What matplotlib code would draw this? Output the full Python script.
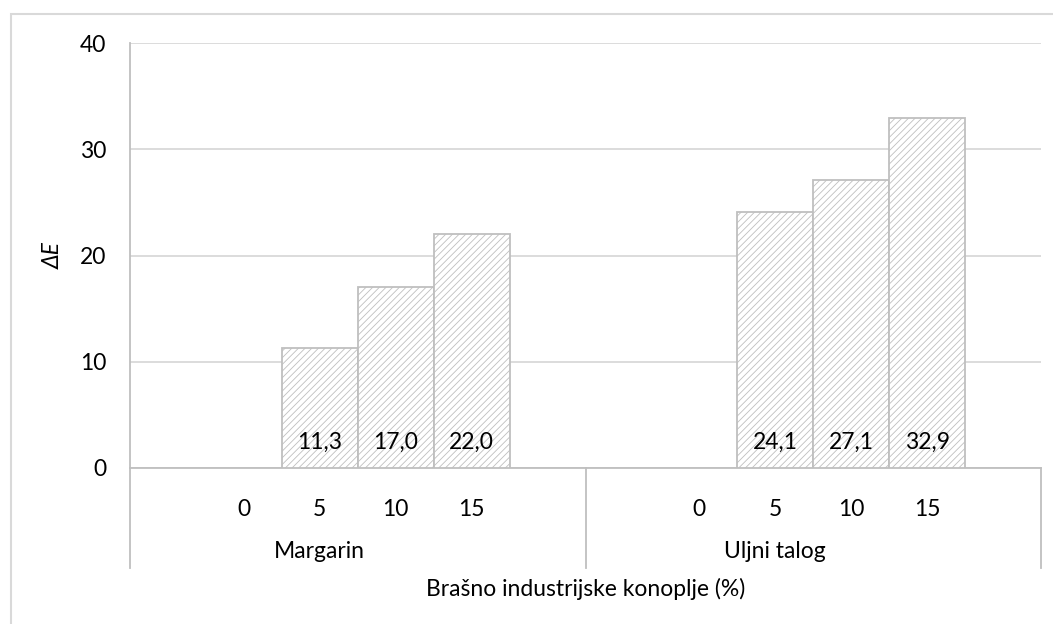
import matplotlib
matplotlib.use("Agg")
import matplotlib.pyplot as plt
from matplotlib.patches import Rectangle

# Data
groups = ["Margarin", "Uljni talog"]
levels = ["0", "5", "10", "15"]
margarin = [None, 11.3, 17.0, 22.0]
uljni = [None, 24.1, 27.1, 32.9]
series = [margarin, uljni]

plt.rcParams["font.family"] = ["Lato", "DejaVu Sans"]
plt.rcParams["hatch.linewidth"] = 0.6
FS = 16.5

fig = plt.figure(figsize=(10.53, 6.24), dpi=100)
ax = fig.add_axes([130 / 1053, 1 - 468 / 624, 911 / 1053, 425 / 624])

# light frame around the chart area, like the Excel chart border
fig.patches.append(Rectangle((11 / 1053, -0.2), 1.2, 1.2 - 14 / 624, transform=fig.transFigure,
                             fill=False, edgecolor="#d9d9d9", linewidth=1.5))

group_width = 6  # slots per group
positions, labels = [], []
for gi, vals in enumerate(series):
    for j, v in enumerate(vals):
        x = gi * group_width + 1.5 + j
        positions.append(x)
        labels.append(levels[j])
        if v is None:
            continue
        ax.bar(x, v, width=1.0, color="white", edgecolor="#bfbfbf", hatch="/////",
               linewidth=1.3, zorder=3)
        ax.annotate(f"{v:.1f}".replace(".", ","), xy=(x, 0), xytext=(0, 18.5),
                    textcoords="offset points", ha="center", va="center",
                    fontsize=FS, color="black", zorder=4)

ax.set_xlim(0, group_width * len(groups))
ax.set_ylim(0, 40)
ax.set_yticks(range(0, 41, 10))
ax.grid(axis="y", color="#d9d9d9", linewidth=1.3, zorder=0)
ax.set_axisbelow(True)

ax.set_xticks(positions, labels)
ax.tick_params(axis="x", length=0, pad=22, labelsize=FS)
ax.tick_params(axis="y", length=0, pad=17, labelsize=FS)

for s in ["top", "right"]:
    ax.spines[s].set_visible(False)
ax.spines["left"].set_color("#bfbfbf")
ax.spines["bottom"].set_color("#bfbfbf")
ax.spines["left"].set_linewidth(1.3)
ax.spines["bottom"].set_linewidth(1.3)

# group separators under the axis and group labels
tr = ax.get_xaxis_transform()
for gi in range(len(groups) + 1):
    ax.plot([gi * group_width] * 2, [0, -100 / 425], transform=tr, color="#bfbfbf",
            linewidth=1.3, clip_on=False)
for gi, g in enumerate(groups):
    ax.text(gi * group_width + 2.5, -84 / 425, g, transform=tr, ha="center", va="center",
            fontsize=FS)

ax.text(0.5, -121 / 425, "Brašno industrijske konoplje (%)", transform=ax.transAxes,
        ha="center", va="center", fontsize=FS)
ax.set_ylabel("ΔE", fontsize=FS, style="italic", labelpad=12)

fig.savefig("out.png", dpi=100)
